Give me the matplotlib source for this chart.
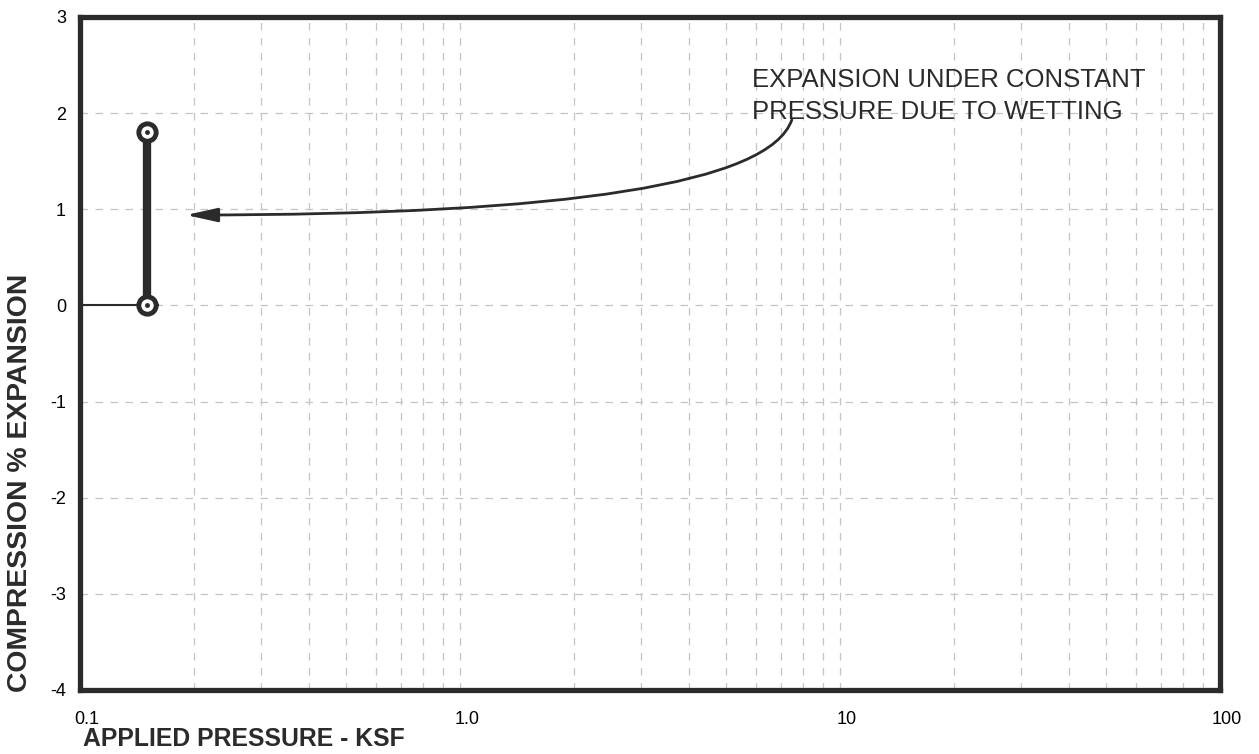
import numpy as np
import matplotlib.pyplot as plt
from matplotlib.ticker import FixedLocator, LogLocator, NullFormatter
from matplotlib.transforms import ScaledTranslation

plt.rcParams["font.family"] = ["Liberation Sans", "DejaVu Sans"]

# test data: swell under constant load after wetting
pressure = [0.15, 0.15]
strain = [0.0, 1.8]
seat_x = [0.1, 0.16]
seat_y = [0.0, 0.0]

x_ticks = [0.1, 1.0, 10, 100]
x_labels = ["0.1", "1.0", "10", "100"]
y_ticks = [3, 2, 1, 0, -1, -2, -3, -4]
y_labels = ["3", "2", "1", "0", "-1", "-2", "-3", "-4"]

note = "EXPANSION UNDER CONSTANT\nPRESSURE DUE TO WETTING"
note_xy = (5.87, 2.47)
arrow_from = (7.47, 1.93)
arrow_to = (0.19, 0.94)

dark = "#2b2b2b"

fig = plt.figure(figsize=(12.59, 7.54), dpi=100)
ax = fig.add_axes([0.0635, 0.0849, 0.9055, 0.8926])
ax.set_xscale("log")
ax.set_xlim(0.1, 100)
ax.set_ylim(-4, 3)

ax.xaxis.set_major_locator(FixedLocator(x_ticks))
ax.xaxis.set_minor_locator(LogLocator(base=10, subs=np.arange(2, 10)))
ax.xaxis.set_minor_formatter(NullFormatter())
ax.set_xticks(x_ticks)
ax.set_xticklabels(x_labels, fontsize=13)
ax.set_yticks(y_ticks)
ax.set_yticklabels(y_labels, fontsize=13)
ax.tick_params(which="both", length=0)
ax.tick_params(axis="x", pad=15)
ax.tick_params(axis="y", pad=10)
# the printed x labels sit a little right of their ticks
for lab in ax.get_xticklabels():
    lab.set_transform(lab.get_transform() + ScaledTranslation(0.07, 0, fig.dpi_scale_trans))

ax.grid(which="major", axis="y", color="#c4c4c4", linestyle=(0, (6, 6)), linewidth=0.9)
ax.grid(which="both", axis="x", color="#c4c4c4", linestyle=(0, (6, 6)), linewidth=0.9)
ax.set_axisbelow(True)

for s in ax.spines.values():
    s.set_linewidth(3.8)
    s.set_color(dark)

ax.plot(seat_x, seat_y, color=dark, linewidth=1.5, zorder=3)
ax.plot(pressure, strain, color=dark, linewidth=6, zorder=4, solid_capstyle="butt")
ax.plot(pressure, strain, linestyle="none", marker="o", markersize=12.5,
        markerfacecolor="white", markeredgecolor=dark, markeredgewidth=3.5, zorder=5)
ax.plot(pressure, strain, linestyle="none", marker="o", markersize=2.5,
        color=dark, zorder=6)

ax.text(note_xy[0], note_xy[1], note, fontsize=18.5, color=dark,
        ha="left", va="top", linespacing=1.45)
ax.annotate("", xy=arrow_to, xytext=arrow_from,
            arrowprops=dict(arrowstyle="-|>,head_length=1.9,head_width=0.42",
                            mutation_scale=10, color=dark, linewidth=2,
                            shrinkA=0, shrinkB=0,
                            connectionstyle="angle3,angleA=71,angleB=0"))

fig.text(0.066, 0.0105, "APPLIED PRESSURE - KSF", fontsize=17.8, fontweight="bold",
         color=dark, ha="left", va="baseline")
fig.text(0.0159, 0.359, "COMPRESSION % EXPANSION", fontsize=20.4, fontweight="bold",
         color=dark, rotation=90, ha="center", va="center")

fig.savefig("out.png", dpi=100)
